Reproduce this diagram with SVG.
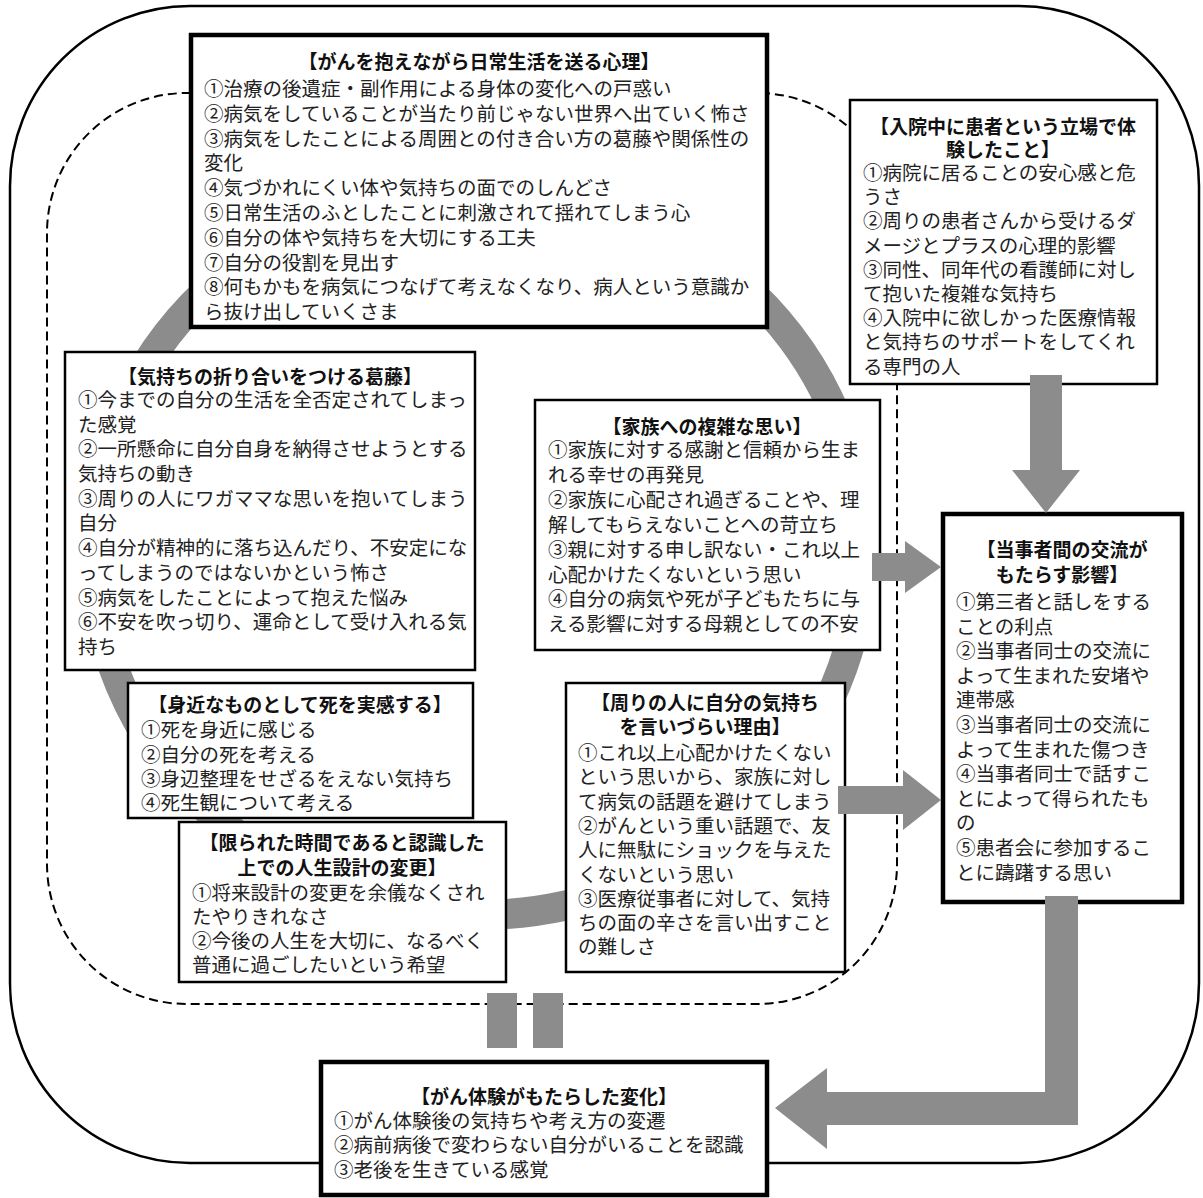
<svg xmlns="http://www.w3.org/2000/svg" width="1203" height="1198" viewBox="0 0 1203 1198">
<style>
.bg{fill:#fff}
.outer{fill:none;stroke:#000;stroke-width:2.5}
.dash{fill:none;stroke:#000;stroke-width:2;stroke-dasharray:9 5}
.ring{fill:none;stroke:#8c8c8c;stroke-width:30}
.box{fill:#fff;stroke:#000;stroke-width:2.5}
.thick{stroke-width:4.5}
.arr{fill:#8c8c8c}
text{font-family:"Noto Sans CJK JP","Noto Sans CJK SC",sans-serif;font-size:19.5px;fill:#222}
.h{font-weight:bold;text-anchor:middle;font-size:19px;fill:#111}
</style>
<rect class="bg" x="0" y="0" width="1203" height="1198"/>
<rect class="outer" x="10" y="6" width="1189" height="1157" rx="180" ry="180"/>
<rect class="dash" x="47" y="93" width="850" height="911" rx="140" ry="140"/>
<ellipse class="ring" cx="478" cy="550" rx="385" ry="365"/>

<g id="node-top">
<rect class="box thick" x="191" y="35" width="576" height="292"/>
<text class="h" x="479" y="69">【がんを抱えながら日常生活を送る心理】</text>
<text x="204" y="96">①治療の後遺症・副作用による身体の変化への戸惑い</text>
<text x="204" y="121">②病気をしていることが当たり前じゃない世界へ出ていく怖さ</text>
<text x="204" y="146">③病気をしたことによる周囲との付き合い方の葛藤や関係性の</text>
<text x="204" y="170">変化</text>
<text x="204" y="195">④気づかれにくい体や気持ちの面でのしんどさ</text>
<text x="204" y="220">⑤日常生活のふとしたことに刺激されて揺れてしまう心</text>
<text x="204" y="245">⑥自分の体や気持ちを大切にする工夫</text>
<text x="204" y="270">⑦自分の役割を見出す</text>
<text x="204" y="294">⑧何もかもを病気につなげて考えなくなり、病人という意識か</text>
<text x="204" y="319">ら抜け出していくさま</text>
</g>

<g id="node-hospital">
<rect class="box" x="850" y="100" width="307" height="284"/>
<text class="h" x="1003" y="134">【入院中に患者という立場で体</text>
<text class="h" x="1003" y="157">験したこと】</text>
<text x="863" y="180">①病院に居ることの安心感と危</text>
<text x="863" y="204">うさ</text>
<text x="863" y="228">②周りの患者さんから受けるダ</text>
<text x="863" y="253">メージとプラスの心理的影響</text>
<text x="863" y="277">③同性、同年代の看護師に対し</text>
<text x="863" y="301">て抱いた複雑な気持ち</text>
<text x="863" y="325">④入院中に欲しかった医療情報</text>
<text x="863" y="349">と気持ちのサポートをしてくれ</text>
<text x="863" y="374">る専門の人</text>
</g>

<g id="node-conflict">
<rect class="box" x="65" y="352" width="410" height="318"/>
<text class="h" x="270" y="384">【気持ちの折り合いをつける葛藤】</text>
<text x="78" y="407">①今までの自分の生活を全否定されてしまっ</text>
<text x="78" y="432">た感覚</text>
<text x="78" y="456">②一所懸命に自分自身を納得させようとする</text>
<text x="78" y="481">気持ちの動き</text>
<text x="78" y="506">③周りの人にワガママな思いを抱いてしまう</text>
<text x="78" y="530">自分</text>
<text x="78" y="555">④自分が精神的に落ち込んだり、不安定にな</text>
<text x="78" y="580">ってしまうのではないかという怖さ</text>
<text x="78" y="605">⑤病気をしたことによって抱えた悩み</text>
<text x="78" y="629">⑥不安を吹っ切り、運命として受け入れる気</text>
<text x="78" y="654">持ち</text>
</g>

<g id="node-family">
<rect class="box" x="535" y="400" width="345" height="250"/>
<text class="h" x="707" y="434">【家族への複雑な思い】</text>
<text x="548" y="457">①家族に対する感謝と信頼から生ま</text>
<text x="548" y="482">れる幸せの再発見</text>
<text x="548" y="507">②家族に心配され過ぎることや、理</text>
<text x="548" y="532">解してもらえないことへの苛立ち</text>
<text x="548" y="557">③親に対する申し訳ない・これ以上</text>
<text x="548" y="582">心配かけたくないという思い</text>
<text x="548" y="606">④自分の病気や死が子どもたちに与</text>
<text x="548" y="631">える影響に対する母親としての不安</text>
</g>

<g id="node-peer">
<rect class="box thick" x="943" y="514" width="239" height="388"/>
<text class="h" x="1062" y="557">【当事者間の交流が</text>
<text class="h" x="1062" y="582">もたらす影響】</text>
<text x="956" y="609">①第三者と話しをする</text>
<text x="956" y="634">ことの利点</text>
<text x="956" y="658">②当事者同士の交流に</text>
<text x="956" y="683">よって生まれた安堵や</text>
<text x="956" y="707">連帯感</text>
<text x="956" y="732">③当事者同士の交流に</text>
<text x="956" y="757">よって生まれた傷つき</text>
<text x="956" y="781">④当事者同士で話すこ</text>
<text x="956" y="806">とによって得られたも</text>
<text x="956" y="830">の</text>
<text x="956" y="855">⑤患者会に参加するこ</text>
<text x="956" y="880">とに躊躇する思い</text>
</g>

<g id="node-death">
<rect class="box" x="128" y="683" width="345" height="135"/>
<text class="h" x="300" y="712">【身近なものとして死を実感する】</text>
<text x="141" y="737">①死を身近に感じる</text>
<text x="141" y="762">②自分の死を考える</text>
<text x="141" y="786">③身辺整理をせざるをえない気持ち</text>
<text x="141" y="810">④死生観について考える</text>
</g>

<g id="node-time">
<rect class="box" x="179" y="822" width="327" height="160"/>
<text class="h" x="342" y="850">【限られた時間であると認識した</text>
<text class="h" x="342" y="875">上での人生設計の変更】</text>
<text x="192" y="900">①将来設計の変更を余儀なくされ</text>
<text x="192" y="924">たやりきれなさ</text>
<text x="192" y="948">②今後の人生を大切に、なるべく</text>
<text x="192" y="972">普通に過ごしたいという希望</text>
</g>

<g id="node-reason">
<rect class="box" x="566" y="683" width="279" height="289"/>
<text class="h" x="705" y="710">【周りの人に自分の気持ち</text>
<text class="h" x="705" y="734">を言いづらい理由】</text>
<text x="578" y="760">①これ以上心配かけたくない</text>
<text x="578" y="784">という思いから、家族に対し</text>
<text x="578" y="809">て病気の話題を避けてしまう</text>
<text x="578" y="833">②がんという重い話題で、友</text>
<text x="578" y="857">人に無駄にショックを与えた</text>
<text x="578" y="882">くないという思い</text>
<text x="578" y="906">③医療従事者に対して、気持</text>
<text x="578" y="930">ちの面の辛さを言い出すこと</text>
<text x="578" y="954">の難しさ</text>
</g>

<g id="node-change">
<rect class="box thick" x="321" y="1062" width="446" height="133"/>
<text class="h" x="544" y="1104">【がん体験がもたらした変化】</text>
<text x="334" y="1128">①がん体験後の気持ちや考え方の変遷</text>
<text x="334" y="1152">②病前病後で変わらない自分がいることを認識</text>
<text x="334" y="1177">③老後を生きている感覚</text>
</g>

<g id="connectors">
<polygon class="arr" points="1030,375 1062,375 1062,470 1080,470 1046,513 1012,470 1030,470"/>
<polygon class="arr" points="872,553 905,553 905,541 941,567 905,593 905,581 872,581"/>
<polygon class="arr" points="838,786 903,786 903,770 941,800 903,830 903,814 838,814"/>
<polygon class="arr" points="1045,896 1078,896 1078,1125 827,1125 827,1149 775,1108 827,1068 827,1092 1045,1092"/>
<rect class="arr" x="487" y="993" width="30" height="55"/>
<rect class="arr" x="533" y="993" width="30" height="55"/>
</g>
</svg>
